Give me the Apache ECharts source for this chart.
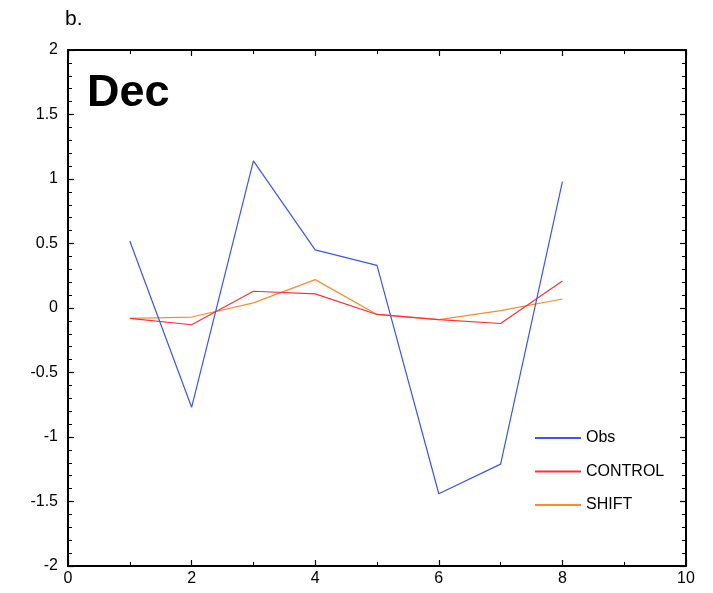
<!DOCTYPE html>
<html>
<head>
<meta charset="utf-8">
<script src="https://cdn.jsdelivr.net/npm/echarts@6/dist/echarts.min.js"></script>
<style>
  html, body { margin: 0; padding: 0; background: #fff; }
  #chart { width: 713px; height: 593px; }
</style>
</head>
<body>
<div id="chart"></div>
<script>
// Month index along the x axis
const months = [1, 2, 3, 4, 5, 6, 7, 8];
// Anomaly series
const obs     = [0.52, -0.77, 1.14, 0.45, 0.33, -1.44, -1.21, 0.98];
const control = [-0.08, -0.13, 0.13, 0.11, -0.05, -0.09, -0.12, 0.21];
const shift   = [-0.08, -0.07, 0.04, 0.22, -0.05, -0.09, -0.02, 0.07];

const seriesNames = ['Obs', 'CONTROL', 'SHIFT'];
const seriesColors = ['#3a55f5', '#ff3030', '#ff8a2a'];
const seriesValues = [obs, control, shift];

const FONT = '"Liberation Sans", Arial, Helvetica, sans-serif';

const chart = echarts.init(document.getElementById('chart'), null, { renderer: 'canvas' });

function frameAxis(extra) {
  return Object.assign({
    type: 'value',
    axisLine: { show: true, onZero: false, lineStyle: { color: '#000', width: 2 } },
    axisTick: { show: true, inside: true, length: 6, lineStyle: { color: '#000', width: 1.2 } },
    minorTick: { show: true, length: 4, lineStyle: { color: '#000', width: 1 } },
    splitLine: { show: false },
    minorSplitLine: { show: false }
  }, extra);
}

chart.setOption({
  animation: false,
  backgroundColor: '#fff',
  grid: { left: 68, right: 27, top: 50, bottom: 27, containLabel: false },
  xAxis: [
    frameAxis({
      position: 'bottom', min: 0, max: 10, interval: 2,
      minorTick: { show: true, splitNumber: 2, length: 4, lineStyle: { color: '#000', width: 1 } },
      axisLabel: { color: '#000', fontFamily: FONT, fontSize: 16, margin: 5 }
    }),
    frameAxis({
      position: 'top', min: 0, max: 10, interval: 2,
      minorTick: { show: true, splitNumber: 2, length: 4, lineStyle: { color: '#000', width: 1 } },
      axisLabel: { show: false }
    })
  ],
  yAxis: [
    frameAxis({
      position: 'left', min: -2, max: 2, interval: 0.5,
      minorTick: { show: true, splitNumber: 5, length: 4, lineStyle: { color: '#000', width: 1 } },
      axisLabel: {
        color: '#000', fontFamily: FONT, fontSize: 16, margin: 10,
        formatter: v => String(v)
      }
    }),
    frameAxis({
      position: 'right', min: -2, max: 2, interval: 0.5,
      minorTick: { show: true, splitNumber: 5, length: 4, lineStyle: { color: '#000', width: 1 } },
      axisLabel: { show: false }
    })
  ],
  legend: {
    orient: 'vertical',
    left: 530,
    top: 424,
    itemWidth: 46,
    itemHeight: 2,
    itemGap: 15.5,
    icon: 'rect',
    textStyle: { color: '#000', fontFamily: FONT, fontSize: 16, lineHeight: 18, padding: [0, 0, 0, 0] },
    data: seriesNames.map((n, i) => ({
      name: n,
      itemStyle: { color: seriesColors[i], borderWidth: 0 },
      lineStyle: { width: 0 }
    }))
  },
  graphic: [
    { type: 'text', left: 65, top: 9,
      style: { text: 'b.', fontFamily: FONT, fontSize: 21, fill: '#000' } },
    { type: 'text', left: 87, top: 71,
      style: { text: 'Dec', fontFamily: FONT, fontSize: 45, fontWeight: 'bold', fill: '#000' } }
  ],
  series: seriesNames.map((name, i) => ({
    name: name,
    type: 'line',
    xAxisIndex: 0,
    yAxisIndex: 0,
    data: months.map((m, j) => [m, seriesValues[i][j]]),
    showSymbol: false,
    symbol: 'none',
    color: seriesColors[i],
    lineStyle: { color: seriesColors[i], width: 1.2 },
    z: 3 - i
  }))
});
</script>
</body>
</html>
